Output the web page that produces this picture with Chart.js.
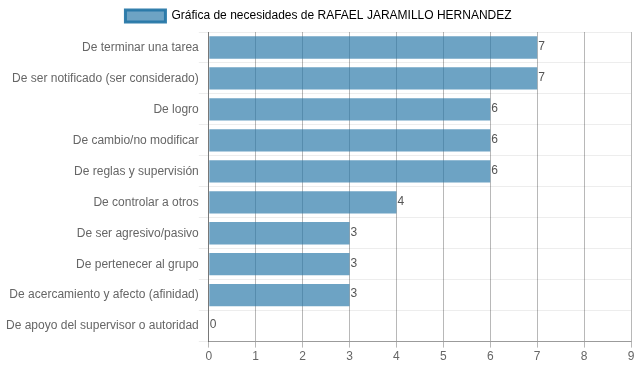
<!DOCTYPE html>
<html>
<head>
<meta charset="utf-8">
<script src="https://cdn.jsdelivr.net/npm/chart.js@4/dist/chart.umd.min.js"></script>
<style>
html,body{margin:0;padding:0;background:#fff;}
#wrap{width:637px;height:371px;}
</style>
</head>
<body>
<div id="wrap"><canvas id="c" width="637" height="371"></canvas></div>
<script>
const categories = [
  "De terminar una tarea",
  "De ser notificado (ser considerado)",
  "De logro",
  "De cambio/no modificar",
  "De reglas y supervisión",
  "De controlar a otros",
  "De ser agresivo/pasivo",
  "De pertenecer al grupo",
  "De acercamiento y afecto (afinidad)",
  "De apoyo del supervisor o autoridad"
];
const values = [7, 7, 6, 6, 6, 4, 3, 3, 3, 0];
const xTicks = [0, 1, 2, 3, 4, 5, 6, 7, 8, 9];
const seriesLabel = "Gráfica de necesidades de RAFAEL JARAMILLO HERNANDEZ";

Chart.defaults.font.family = "Arial, 'Liberation Sans', Helvetica, sans-serif";
Chart.defaults.font.size = 12;
Chart.defaults.color = "#666";

const valueLabels = {
  id: 'valueLabels',
  afterDatasetsDraw(chart) {
    const ctx = chart.ctx;
    ctx.save();
    ctx.font = "12px Arial, 'Liberation Sans', sans-serif";
    ctx.fillStyle = "#555";
    ctx.textAlign = "left";
    ctx.textBaseline = "middle";
    chart.getDatasetMeta(0).data.forEach((bar, i) => {
      ctx.fillText(String(values[i]), bar.x + 1, bar.y - 1);
    });
    ctx.restore();
  }
};

new Chart(document.getElementById('c'), {
  type: 'bar',
  data: {
    labels: categories,
    datasets: [{
      label: seriesLabel,
      data: values,
      backgroundColor: 'rgba(40,120,168,0.68)',
      borderColor: 'rgba(40,120,168,0.95)',
      borderWidth: 0
    }]
  },
  options: {
    indexAxis: 'y',
    responsive: false,
    animation: false,
    devicePixelRatio: 1,
    layout: { padding: { left: 6, right: 6, top: 0, bottom: 5 } },
    plugins: {
      legend: {
        labels: {
          boxWidth: 40,
          boxHeight: 12,
          color: '#666',
          font: { size: 12 },
          generateLabels(chart) {
            const ds = chart.data.datasets[0];
            return [{
              text: ds.label,
              fillStyle: 'rgba(40,120,168,0.68)',
              strokeStyle: 'rgba(40,120,168,0.95)',
              lineWidth: 3,
              datasetIndex: 0,
              hidden: false
            }];
          }
        }
      },
      tooltip: { enabled: false }
    },
    scales: {
      x: {
        min: 0,
        max: 9,
        afterBuildTicks(scale) { scale.ticks = xTicks.map(v => ({ value: v })); },
        grid: { color: 'rgba(0,0,0,0.28)', tickLength: 6, drawTicks: true },
        border: { color: 'rgba(0,0,0,0.35)' },
        ticks: { color: '#666', font: { size: 12 }, padding: 2 }
      },
      y: {
        grid: { color: 'rgba(0,0,0,0.07)', offset: true, tickLength: 10 },
        border: { color: 'rgba(0,0,0,0.35)' },
        ticks: { color: '#666', font: { size: 12 }, padding: 0 }
      }
    }
  },
  plugins: [valueLabels]
});
</script>
</body>
</html>
